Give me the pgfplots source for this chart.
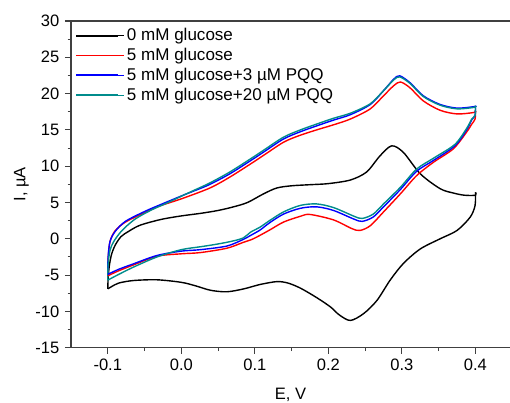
\documentclass[border=0pt]{standalone}
\usepackage{pgfplots}
\pgfplotsset{compat=1.18}
\usepackage{fontspec}
\setmainfont{Liberation Sans}[Scale=1.24]
\definecolor{cteal}{RGB}{0,140,140}
\definecolor{cblue}{RGB}{0,0,255}
\definecolor{cred}{RGB}{255,0,0}
\begin{document}
\begin{tikzpicture}
\path[use as bounding box] (-53.25pt,-41.5pt) rectangle (329.25pt,260.75pt);
\begin{axis}[
  scale only axis, width=329.25pt, height=245pt,
  xmin=-0.15, xmax=0.447, ymin=-15, ymax=30,
  axis y line*=left, axis line style={-, line width=0.8pt, color=black!75},
  tick pos=left, tick align=outside,
  major tick length=4.5pt, minor tick length=2.5pt,
  tick style={line width=0.8pt, color=black!75},
  xtick={-0.1,0,0.1,0.2,0.3,0.4},
  xticklabels={-0.1,0.0,0.1,0.2,0.3,0.4},
  ytick={-15,-10,-5,0,5,10,15,20,25,30},
  yticklabels={-15,-10,-5,0,5,10,15,20,25,30},
  minor x tick num=1, minor y tick num=1,
  xlabel={E, V}, ylabel={I, µA},
  xlabel style={yshift=-4.5pt},
  ylabel shift=-2.5pt,
  ylabel style={yshift=-1pt},
  legend style={at={(0.0,0.995)}, anchor=north west, draw=none, fill=none,
    font=\fontsize{10.3}{12.4}\selectfont, row sep=-0.2pt},
  legend cell align=left,
  legend image code/.code={\path (0cm,0cm) -- (1.25cm,0cm);\draw[#1, line width=1.4pt] (0cm,0cm) -- (1.1cm,0cm);},
  every axis plot/.append style={line width=1.05pt},
]
% 0 mM glucose
\addplot[black, smooth, tension=0.5] coordinates {
(-0.1,-6.9) (-0.0995,-5.5) (-0.098,-3.8) (-0.095,-2.2) (-0.09,-0.9) (-0.082,0.3)
(-0.072,1.0) (-0.06,1.7) (-0.049,2.1) (-0.026,2.7) (0.0,3.15) (0.026,3.5)
(0.05,3.9) (0.071,4.4) (0.09,5.0) (0.112,6.2) (0.13,7.0) (0.15,7.3)
(0.175,7.45) (0.2,7.6) (0.23,8.1) (0.252,9.2) (0.27,11.4) (0.286,12.8)
(0.302,11.9) (0.325,8.95) (0.352,6.9) (0.37,6.3) (0.385,6.0) (0.4,6.0) (0.4,6.4)
};
\addlegendentry{0 mM glucose}
\addplot[cred, smooth, tension=0.5] coordinates {
(-0.1,-5.1) (-0.0995,-2.8) (-0.097,-0.4) (-0.09,1.1) (-0.076,2.3) (-0.052,3.5)
(-0.03,4.5) (0.0,5.5) (0.039,7.0) (0.066,8.5) (0.094,10.3) (0.112,11.5)
(0.139,13.3) (0.16,14.2) (0.184,15.0) (0.207,15.7) (0.23,16.5) (0.257,17.9)
(0.275,19.7) (0.289,21.1) (0.298,21.6) (0.311,20.8) (0.329,19.0) (0.352,17.7)
(0.375,17.2) (0.398,17.4) (0.4,17.6)
};
\addlegendentry{5 mM glucose}
\addplot[cblue, smooth, tension=0.5] coordinates {
(-0.1,-4.9) (-0.0995,-2.5) (-0.097,-0.4) (-0.09,1.0) (-0.076,2.4) (-0.049,3.8)
(-0.026,4.8) (0.005,6.1) (0.02,6.7) (0.039,7.5) (0.066,8.95) (0.094,10.75) (0.112,11.95)
(0.139,13.75) (0.162,14.75) (0.184,15.55) (0.207,16.35) (0.23,17.1) (0.257,18.5)
(0.275,20.4) (0.289,22.0) (0.297,22.45) (0.311,21.5) (0.329,19.7) (0.352,18.5)
(0.375,18.0) (0.398,18.2) (0.4,18.3)
};
\addlegendentry{5 mM glucose+3 µM PQQ}
\addplot[cteal, smooth, tension=0.5] coordinates {
(-0.1,-5.7) (-0.0995,-3.5) (-0.097,-1.6) (-0.092,-0.4) (-0.081,1.1) (-0.063,2.7)
(-0.04,4.0) (-0.02,4.9) (0.005,6.1) (0.02,6.8) (0.039,7.7)
(0.066,9.2) (0.094,11.0) (0.112,12.2) (0.139,14.0) (0.162,15.0) (0.184,15.8)
(0.207,16.6) (0.23,17.3) (0.257,18.6) (0.275,20.4) (0.289,21.9) (0.297,22.3)
(0.311,21.4) (0.329,19.6) (0.352,18.4) (0.375,17.9) (0.398,18.1) (0.4,18.3)
};
\addlegendentry{5 mM glucose+20 µM PQQ}
% reverse scans
\addplot[black, smooth, tension=0.5, forget plot] coordinates {
(0.4,6.4) (0.3995,4.6) (0.393,3.0) (0.375,1.15) (0.352,0.0) (0.325,-1.4)
(0.302,-3.4) (0.284,-5.7) (0.266,-8.5) (0.248,-10.3) (0.23,-11.25) (0.215,-10.5)
(0.203,-9.4) (0.184,-8.1) (0.162,-6.8) (0.145,-6.1) (0.13,-5.9)
(0.107,-6.3) (0.085,-6.9) (0.062,-7.3) (0.04,-7.1) (0.02,-6.5) (0.0,-6.0)
(-0.033,-5.65) (-0.065,-5.75) (-0.085,-6.1) (-0.095,-6.6) (-0.1,-6.9)
};
\addplot[cred, smooth, tension=0.5, forget plot] coordinates {
(0.4,17.6) (0.3995,16.5) (0.395,15.8) (0.388,14.7) (0.37,12.4) (0.343,10.55)
(0.32,8.7) (0.298,6.2) (0.275,3.7) (0.257,1.8) (0.243,1.15) (0.232,1.4)
(0.207,2.6) (0.175,3.35) (0.162,3.1) (0.139,2.3) (0.12,1.2) (0.098,0.0)
(0.084,-0.5) (0.062,-1.3) (0.026,-1.9) (0.0,-2.07) (-0.033,-2.4) (-0.065,-3.6)
(-0.085,-4.4) (-0.1,-5.1)
};
\addplot[cblue, smooth, tension=0.5, forget plot] coordinates {
(0.4,18.3) (0.3995,17.0) (0.395,16.4) (0.388,15.0) (0.372,12.8) (0.343,10.8)
(0.32,9.3) (0.298,6.8) (0.275,4.4) (0.261,3.0) (0.246,2.4) (0.235,2.7)
(0.207,3.9) (0.184,4.4) (0.162,4.2) (0.139,3.4) (0.12,2.2) (0.107,1.2)
(0.094,0.45) (0.084,-0.1) (0.062,-1.0) (0.026,-1.5) (0.0,-1.7) (-0.033,-2.3)
(-0.065,-3.45) (-0.085,-4.2) (-0.1,-4.9)
};
\addplot[cteal, smooth, tension=0.5, forget plot] coordinates {
(0.4,18.3) (0.3995,17.0) (0.395,16.5) (0.388,15.2) (0.372,13.0) (0.343,11.1)
(0.32,9.6) (0.298,7.1) (0.275,4.8) (0.261,3.4) (0.246,2.8) (0.235,3.1)
(0.207,4.3) (0.184,4.8) (0.162,4.6) (0.139,3.7) (0.12,2.5) (0.107,1.6)
(0.094,0.9) (0.084,0.1) (0.066,-0.4) (0.045,-0.8) (0.026,-1.1) (0.0,-1.5)
(-0.033,-2.5) (-0.065,-3.9) (-0.085,-4.9) (-0.1,-5.7)
};
\end{axis}
\end{tikzpicture}
\end{document}
